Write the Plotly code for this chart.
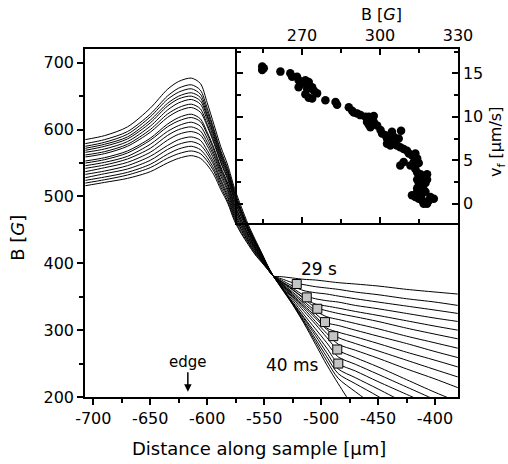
import plotly.graph_objects as go

# ---- main panel: B profiles along the sample, from 40 ms (first) to 29 s (last)
x_pos = [-707, -690, -670, -650, -635, -625, -614, -606, -600, -594, -588, -582, -576,
         -570, -564, -558, -552, -547, -542, -535, -525, -515, -505, -495, -485, -470,
         -450, -425, -400, -380]

b_00 = [585, 591, 604, 632, 660, 672, 677, 669, 640, 607, 574, 547, 512, 484, 458, 436, 415, 397, 381, 363, 338, 310, 279, 248, 220, 180, 128, 65, 0, -50]
b_01 = [579, 585, 597, 623, 650, 662, 667, 659, 632, 600, 568, 542, 508, 480, 455, 434, 414, 396, 381, 364, 339, 312, 283, 254, 228, 208, 183, 150, 118, 92]
b_02 = [575, 581, 593, 619, 645, 656, 661, 653, 627, 597, 565, 539, 505, 478, 454, 433, 413, 396, 381, 364, 340, 314, 287, 260, 235, 220, 201, 175, 150, 130]
b_03 = [572, 578, 589, 614, 639, 650, 655, 648, 622, 593, 562, 536, 503, 476, 452, 432, 412, 396, 381, 365, 341, 317, 292, 266, 242, 229, 212, 190, 168, 150]
b_04 = [569, 575, 586, 610, 635, 646, 650, 643, 619, 590, 559, 534, 501, 475, 451, 431, 412, 396, 381, 365, 342, 319, 296, 273, 250, 239, 223, 204, 185, 169]
b_05 = [566, 571, 582, 605, 629, 640, 645, 638, 614, 586, 556, 531, 498, 473, 450, 430, 411, 395, 381, 366, 345, 323, 302, 281, 260, 249, 234, 215, 196, 181]
b_06 = [562, 567, 578, 600, 623, 633, 638, 631, 608, 582, 552, 528, 495, 470, 448, 428, 410, 395, 381, 367, 348, 328, 309, 289, 270, 259, 245, 226, 207, 193]
b_07 = [559, 564, 575, 596, 618, 628, 633, 626, 605, 579, 550, 525, 493, 469, 447, 427, 410, 395, 381, 368, 350, 332, 313, 295, 279, 270, 258, 242, 227, 214]
b_08 = [553, 558, 568, 587, 608, 618, 623, 616, 596, 572, 544, 520, 489, 465, 444, 425, 408, 394, 381, 369, 351, 335, 318, 301, 289, 280, 269, 255, 241, 230]
b_09 = [550, 555, 565, 584, 604, 613, 618, 612, 593, 569, 541, 518, 487, 464, 443, 424, 408, 394, 381, 370, 353, 337, 321, 303, 297, 290, 280, 267, 255, 245]
b_10 = [546, 551, 560, 578, 597, 606, 611, 605, 587, 564, 538, 515, 484, 461, 441, 423, 407, 394, 381, 370, 355, 340, 325, 311, 307, 300, 291, 280, 268, 259]
b_11 = [542, 547, 556, 572, 591, 600, 604, 598, 581, 560, 534, 511, 481, 459, 439, 422, 406, 393, 381, 371, 357, 343, 329, 320, 316, 310, 302, 291, 281, 273]
b_12 = [537, 543, 551, 566, 584, 593, 597, 592, 576, 555, 530, 508, 478, 456, 437, 420, 405, 393, 381, 372, 360, 347, 334, 329, 325, 320, 313, 303, 294, 287]
b_13 = [533, 538, 546, 560, 576, 585, 589, 584, 569, 550, 525, 504, 475, 454, 435, 419, 404, 392, 381, 373, 361, 348, 339, 336, 333, 328, 322, 314, 306, 300]
b_14 = [528, 534, 541, 554, 570, 578, 582, 577, 564, 546, 522, 500, 472, 451, 433, 417, 404, 392, 381, 373, 363, 352, 347, 344, 342, 337, 332, 325, 318, 313]
b_15 = [524, 529, 536, 548, 563, 571, 575, 570, 558, 541, 518, 497, 469, 449, 432, 416, 403, 392, 381, 375, 366, 359, 356, 354, 351, 347, 342, 336, 330, 325]
b_16 = [520, 525, 532, 543, 557, 564, 568, 564, 553, 537, 514, 493, 466, 446, 430, 414, 402, 391, 381, 377, 371, 368, 365, 363, 361, 357, 353, 347, 342, 337]
b_17 = [516, 521, 527, 537, 550, 557, 561, 557, 547, 532, 510, 490, 463, 444, 428, 413, 401, 391, 381, 380, 378, 376, 375, 373, 371, 369, 366, 361, 357, 354]

profiles = [b_00, b_01, b_02, b_03, b_04, b_05, b_06, b_07, b_08,
            b_09, b_10, b_11, b_12, b_13, b_14, b_15, b_16, b_17]

# flux-front markers (grey squares)
front_x = [-521.4, -512.6, -503.3, -496.6, -489.3, -485.8, -484.9]
front_b = [369, 349, 332, 312, 291, 271, 250]

# ---- inset: front velocity vs B
inset_b = [254.7, 254.7, 255.3, 261.7, 265.5, 266.2, 268.1, 268.7, 270.0, 271.3, 272.6,
           268.7, 272.0, 273.9, 274.6, 271.3, 272.6, 273.9, 275.8, 279.0, 282.9, 283.5,
           288.0, 289.3, 289.9, 291.2, 292.5, 294.4, 295.7, 297.0, 297.6, 295.0, 295.7,
           296.3, 297.6, 298.9, 300.2, 300.8, 302.1, 302.7, 304.6, 305.3, 307.2, 308.1,
           302.7, 304.0, 305.3, 306.5, 307.8, 309.1, 310.4, 311.1, 312.3, 313.6, 314.3,
           313.0, 314.9, 307.8, 309.1, 311.7, 313.6, 314.3, 315.6, 316.2, 317.5, 318.1,
           314.3, 314.9, 316.2, 317.5, 318.1, 314.3, 312.3, 313.6, 314.9, 316.2, 316.8,
           318.1, 318.8, 319.4, 320.7, 315.9, 314.3, 317.5, 316.8]
inset_v = [15.8, 15.4, 15.6, 15.2, 15.0, 14.6, 14.6, 14.2, 13.8, 14.2, 14.0,
           13.4, 13.2, 13.4, 13.0, 12.6, 12.2, 12.1, 12.7, 11.9, 11.7, 11.4,
           11.1, 10.7, 10.5, 10.4, 10.2, 10.0, 10.0, 9.8, 10.1, 9.4, 9.1,
           8.8, 9.4, 9.0, 8.5, 8.1, 7.9, 7.5, 8.3, 7.7, 7.5, 8.4,
           6.9, 6.7, 7.1, 6.7, 6.5, 6.3, 6.1, 5.8, 5.6, 5.8, 5.2,
           4.8, 4.7, 4.4, 4.8, 4.4, 4.0, 3.6, 3.4, 3.0, 3.2, 3.4,
           2.8, 2.4, 2.0, 2.4, 2.8, 1.8, 1.0, 0.8, 0.6, 0.4, 0.0,
           0.0, 0.4, 0.8, 0.6, 1.0, 1.4, 1.4, 1.6]

main_xticks = [-700, -650, -600, -550, -500, -450, -400]
main_xtext = ["-700", "-650", "-600", "-550", "-500", "-450", "-400"]
main_yticks = [200, 300, 400, 500, 600, 700]
inset_xticks = [270, 300, 330]
inset_yticks = [0, 5, 10, 15]

FONT = "DejaVu Sans"

fig = go.Figure()
for prof in profiles:
    fig.add_trace(go.Scatter(
        x=x_pos, y=prof, mode="lines",
        line=dict(color="black", width=1, shape="spline", smoothing=0.8),
        showlegend=False, hoverinfo="skip", xaxis="x", yaxis="y"))

fig.add_trace(go.Scatter(
    x=front_x, y=front_b, mode="markers",
    marker=dict(symbol="square", size=9, color="#c4c4c4",
                line=dict(color="black", width=1)),
    showlegend=False, hoverinfo="skip", xaxis="x", yaxis="y"))

fig.add_trace(go.Scatter(
    x=inset_b, y=inset_v, mode="markers",
    marker=dict(size=8.5, color="black"),
    showlegend=False, hoverinfo="skip", xaxis="x2", yaxis="y2"))

axis_common = dict(showgrid=False, zeroline=False, showline=True, linecolor="black",
                   linewidth=1.5, tickcolor="black", tickwidth=1.5, automargin=False,
                   tickfont=dict(family=FONT, size=16, color="black"))

fig.update_layout(
    width=508, height=464,
    margin=dict(l=85, r=50, t=49, b=67, autoexpand=False),
    paper_bgcolor="white", plot_bgcolor="rgba(0,0,0,0)",
    font=dict(family=FONT, color="black"),
    xaxis=dict(domain=[0, 1], anchor="y", range=[-707.3, -379.8],
               tickvals=main_xticks, ticktext=main_xtext, ticks="outside", ticklen=6,
               minor=dict(tickvals=[-675, -625, -575, -525, -475, -425], ticks="outside",
                          ticklen=4, tickcolor="black", tickwidth=1.5),
               mirror=True, **axis_common),
    yaxis=dict(domain=[0, 1], anchor="x", range=[200, 720.5],
               tickvals=main_yticks, ticks="outside", ticklen=6,
               minor=dict(tickvals=[250, 350, 450, 550, 650], ticks="outside",
                          ticklen=4, tickcolor="black", tickwidth=1.5),
               mirror=True, **axis_common),
    xaxis2=dict(domain=[0.4075, 1], anchor="y2", side="top", range=[245, 330],
                tickvals=inset_xticks, ticks="inside", ticklen=6,
                minor=dict(tickvals=[255, 285, 315], ticks="inside", ticklen=4,
                           tickcolor="black", tickwidth=1.5),
                mirror="ticks", **axis_common),
    yaxis2=dict(domain=[0.5, 1], anchor="x2", side="right", range=[-2.2, 17.8],
                tickvals=inset_yticks, ticks="inside", ticklen=6,
                minor=dict(tickvals=[2.5, 7.5, 12.5, 17.5], ticks="inside", ticklen=4,
                           tickcolor="black", tickwidth=1.5),
                mirror="ticks", **axis_common),
    annotations=[
        dict(text="Distance along sample [μm]", xref="paper", yref="paper",
             x=0.466, y=-0.147, showarrow=False, xanchor="center", yanchor="middle",
             font=dict(family=FONT, size=18)),
        dict(text="B [<i>G</i>]", xref="paper", yref="paper", x=-0.18, y=0.457,
             textangle=-90, showarrow=False, xanchor="center", yanchor="middle",
             font=dict(family=FONT, size=18)),
        dict(text="B [<i>G</i>]", xref="paper", yref="paper", x=0.795, y=1.099,
             showarrow=False, xanchor="center", yanchor="middle",
             font=dict(family=FONT, size=16)),
        dict(text="v<sub>f</sub> [μm/s]", xref="paper", yref="paper", x=1.105, y=0.733,
             textangle=-90, showarrow=False, xanchor="center", yanchor="middle",
             font=dict(family=FONT, size=16)),
        dict(text="29 s", xref="x", yref="y", x=-502, y=392, showarrow=False,
             font=dict(family=FONT, size=17)),
        dict(text="40 ms", xref="x", yref="y", x=-525, y=248, showarrow=False,
             font=dict(family=FONT, size=17)),
        dict(text="edge", xref="x", yref="y", x=-617, y=208, ax=0, ay=-30,
             showarrow=True, arrowhead=2, arrowsize=1, arrowwidth=1.5,
             arrowcolor="black", font=dict(family=FONT, size=15)),
    ],
)

fig.write_html("out.html", config={"displayModeBar": False},
               post_script="document.body.style.margin='0px';")
